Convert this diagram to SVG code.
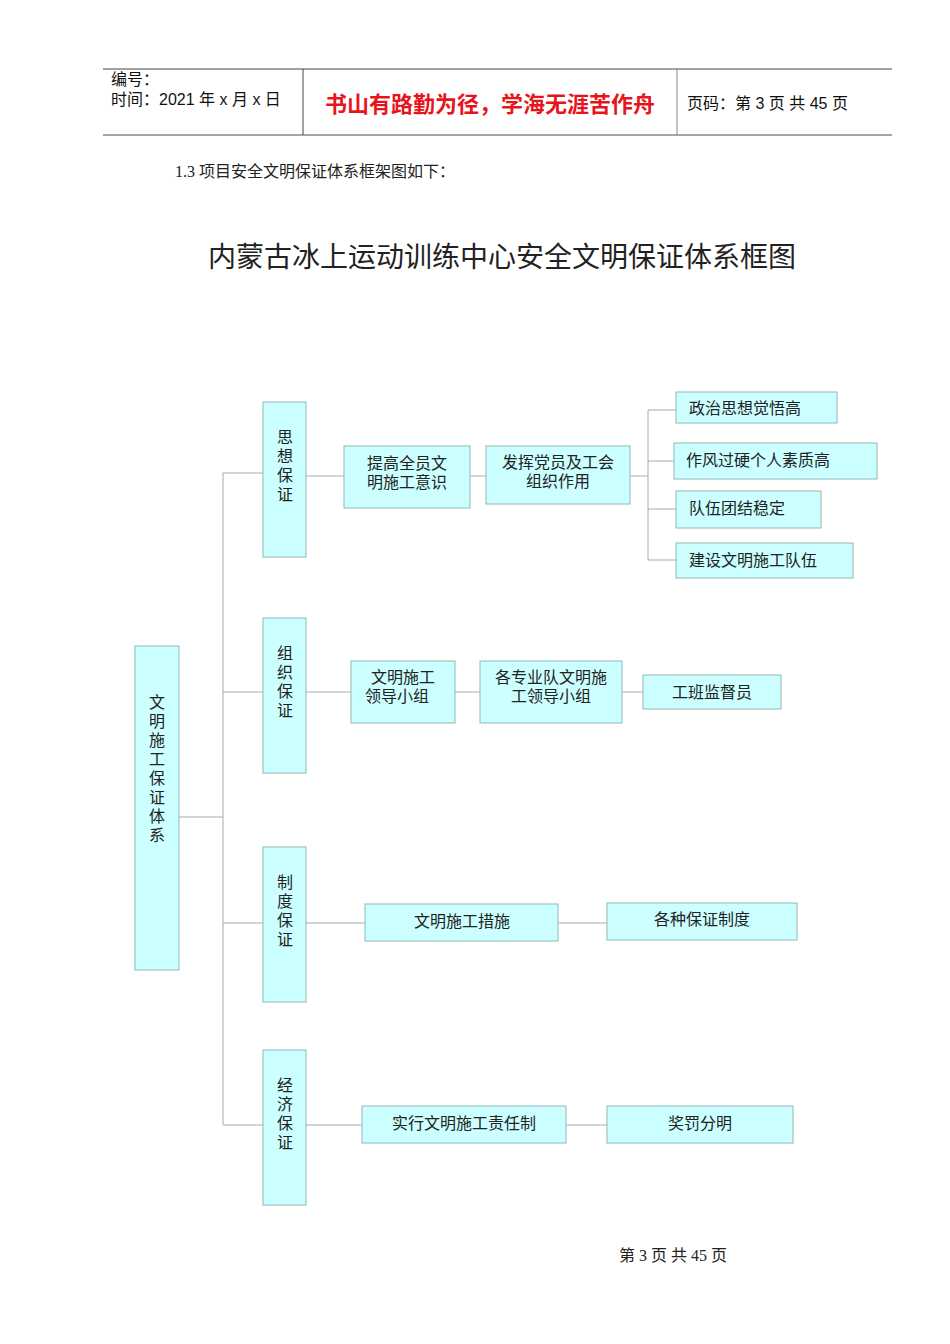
<svg xmlns="http://www.w3.org/2000/svg" width="950" height="1344" viewBox="0 0 950 1344">
<style>
.b{fill:#ccffff;stroke:#8fb8b8;stroke-width:1}
.t{font-family:"Liberation Serif","Noto Sans CJK SC",serif;font-size:16px;fill:#222}
.c{text-anchor:middle}
.h{font-family:"Liberation Sans","Noto Sans CJK SC",sans-serif;font-size:16px;fill:#111}
.l{stroke:#aaaaaa;stroke-width:1;fill:none}
</style>
<rect width="950" height="1344" fill="#fff"/>
<g id="header">
<line x1="103" y1="69" x2="892" y2="69" stroke="#444"/>
<line x1="103" y1="135" x2="892" y2="135" stroke="#888" stroke-width="1.5"/>
<line x1="303" y1="69" x2="303" y2="135" stroke="#444"/>
<line x1="677" y1="69" x2="677" y2="135" stroke="#888"/>
<text class="h" x="111" y="85">编号：</text>
<text class="h" x="111" y="105">时间：2021 年 x 月 x 日</text>
<text x="490" y="112" text-anchor="middle" font-family="Noto Sans CJK SC,sans-serif" font-size="22" font-weight="bold" fill="#e8141b">书山有路勤为径，学海无涯苦作舟</text>
<text class="h" x="687" y="109">页码：第 3 页  共 45 页</text>
</g>
<text class="t" x="175" y="177" font-size="17">1.3 项目安全文明保证体系框架图如下：</text>
<text x="502" y="267" text-anchor="middle" font-family="Liberation Serif,Noto Sans CJK SC,serif" font-size="28" fill="#222">内蒙古冰上运动训练中心安全文明保证体系框图</text>
<g id="connectors">
<path class="l" d="M179 817H223M223 473V1125M223 473H263M223 692H263M223 923H263M223 1125H263"/>
<path class="l" d="M306 476H344M470 476H486M630 476H648M648 410V560M648 410H676M648 461H674M648 509H676M648 560H676"/>
<path class="l" d="M306 692H351M455 692H480M622 692H643"/>
<path class="l" d="M306 923H365M558 923H607"/>
<path class="l" d="M306 1125H362M566 1125H607"/>
</g>
<g id="n_main"><rect class="b" x="135" y="646" width="44" height="324"/>
<text class="t c" x="157"><tspan x="157" y="708">文</tspan><tspan x="157" y="727">明</tspan><tspan x="157" y="746">施</tspan><tspan x="157" y="765">工</tspan><tspan x="157" y="784">保</tspan><tspan x="157" y="803">证</tspan><tspan x="157" y="822">体</tspan><tspan x="157" y="841">系</tspan></text></g>
<g id="n_sx"><rect class="b" x="263" y="402" width="43" height="155"/>
<text class="t c"><tspan x="285" y="443">思</tspan><tspan x="285" y="462">想</tspan><tspan x="285" y="481">保</tspan><tspan x="285" y="500">证</tspan></text></g>
<g id="n_zz"><rect class="b" x="263" y="618" width="43" height="155"/>
<text class="t c"><tspan x="285" y="659">组</tspan><tspan x="285" y="678">织</tspan><tspan x="285" y="697">保</tspan><tspan x="285" y="716">证</tspan></text></g>
<g id="n_zd"><rect class="b" x="263" y="847" width="43" height="155"/>
<text class="t c"><tspan x="285" y="888">制</tspan><tspan x="285" y="907">度</tspan><tspan x="285" y="926">保</tspan><tspan x="285" y="945">证</tspan></text></g>
<g id="n_jj"><rect class="b" x="263" y="1050" width="43" height="155"/>
<text class="t c"><tspan x="285" y="1091">经</tspan><tspan x="285" y="1110">济</tspan><tspan x="285" y="1129">保</tspan><tspan x="285" y="1148">证</tspan></text></g>
<g id="n1"><rect class="b" x="344" y="446" width="126" height="62"/>
<text class="t c"><tspan x="407" y="469">提高全员文</tspan><tspan x="407" y="488">明施工意识</tspan></text></g>
<g id="n2"><rect class="b" x="486" y="446" width="144" height="58"/>
<text class="t c"><tspan x="558" y="468">发挥党员及工会</tspan><tspan x="558" y="487">组织作用</tspan></text></g>
<g id="n3"><rect class="b" x="676" y="392" width="161" height="31"/><text class="t" x="689" y="414">政治思想觉悟高</text></g>
<g id="n4"><rect class="b" x="674" y="443" width="203" height="36"/><text class="t" x="686" y="466">作风过硬个人素质高</text></g>
<g id="n5"><rect class="b" x="676" y="491" width="145" height="37"/><text class="t" x="689" y="514">队伍团结稳定</text></g>
<g id="n6"><rect class="b" x="676" y="543" width="177" height="35"/><text class="t" x="689" y="566">建设文明施工队伍</text></g>
<g id="n7"><rect class="b" x="351" y="661" width="104" height="62"/>
<text class="t c"><tspan x="403" y="683">文明施工</tspan><tspan x="397" y="702">领导小组</tspan></text></g>
<g id="n8"><rect class="b" x="480" y="661" width="142" height="62"/>
<text class="t c"><tspan x="551" y="683">各专业队文明施</tspan><tspan x="551" y="702">工领导小组</tspan></text></g>
<g id="n9"><rect class="b" x="643" y="675" width="138" height="34"/><text class="t c" x="712" y="698">工班监督员</text></g>
<g id="n10"><rect class="b" x="365" y="904" width="193" height="37"/><text class="t c" x="462" y="927">文明施工措施</text></g>
<g id="n11"><rect class="b" x="607" y="903" width="190" height="37"/><text class="t c" x="702" y="925">各种保证制度</text></g>
<g id="n12"><rect class="b" x="362" y="1106" width="204" height="37"/><text class="t c" x="464" y="1129">实行文明施工责任制</text></g>
<g id="n13"><rect class="b" x="607" y="1106" width="186" height="37"/><text class="t c" x="700" y="1129">奖罚分明</text></g>
<text class="t" x="673" y="1261" text-anchor="middle" font-size="14">第 3 页 共 45 页</text>
</svg>
